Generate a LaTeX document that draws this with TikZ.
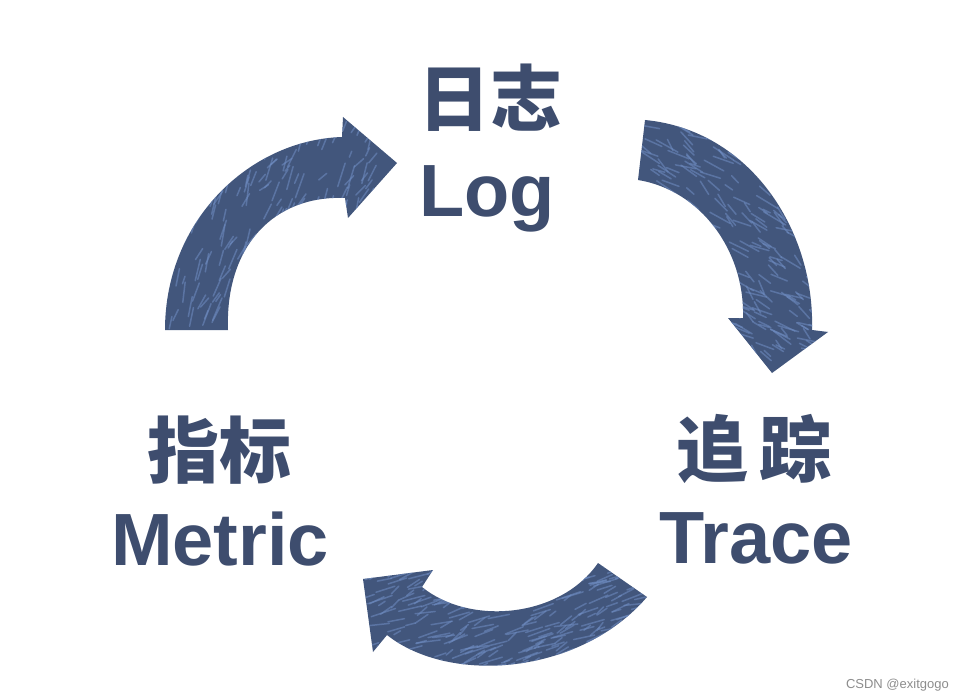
\documentclass[tikz,border=0pt]{standalone}
\usepackage{fontspec}
\usetikzlibrary{calc}
\newfontfamily\cjk{Noto Sans CJK SC}
\newfontfamily\lat{Liberation Sans}
\definecolor{arrowblue}{RGB}{66,86,124}
\definecolor{streakblue}{RGB}{112,142,196}
\definecolor{textblue}{RGB}{62,77,110}
\begin{document}
\begin{tikzpicture}[
    x = 1pt, y = -1pt,
    streakline/.style = {streakblue, line width = 1.5pt, line cap = round, opacity = 0.55},
    curvedarrow/.style = {fill = arrowblue, path picture = {
        \foreach \k in {1,...,300} {
            \draw[streakline] let \p1 = (path picture bounding box.south west), \p2 = (path picture bounding box.north east)
                in ({\x1+rnd*(\x2-\x1)}, {\y1+rnd*(\y2-\y1)}) -- ++(#1:{6+rnd*20});
        }}},
    zh/.style = {anchor = base, inner sep = 0pt, text = textblue, font = \cjk\bfseries\fontsize{72}{72}\selectfont},
    en/.style = {anchor = base, inner sep = 0pt, text = textblue, font = \lat\bfseries\fontsize{74}{74}\selectfont},
    wmark/.style = {anchor = base east, inner sep = 0pt, text = black!45, font = \lat\fontsize{13}{13}\selectfont}
]
\pgfmathsetseed{11}
\useasboundingbox (0,0) rectangle (965,700);
% labels
\node[zh] (logzh) at (490,126) {日志};
\node[en] (logen) at (487,217) {Log};
\node[zh] (metriczh) at (219,477) {指标};
\node[en] (metricen) at (220,565) {Metric};
\node[zh] (tracezh) at (754,476) {追\,踪};
\node[en] (traceen) at (756,563) {Trace};
% arrows
\fill[curvedarrow = -68] (165,330) .. controls (165,220) and (250,140) .. (342,137)
    -- (343,117) -- (397,163) -- (348,218) -- (345,198)
    .. controls (275,195) and (225,245) .. (228,330) -- cycle;
\fill[curvedarrow = 32] (645,120) .. controls (750,130) and (815,230) .. (812,330)
    -- (828,332) -- (772,373) -- (728,318) -- (743,318)
    .. controls (745,250) and (700,190) .. (638,180) -- cycle;
\fill[curvedarrow = -20] (647,597) .. controls (580,675) and (450,685) .. (387,635)
    -- (373,652) -- (363,579) -- (433,570) -- (422,587)
    .. controls (470,626) and (560,618) .. (598,563) -- cycle;
\node[wmark] (wm) at (949,688) {CSDN @exitgogo};
\end{tikzpicture}
\end{document}
